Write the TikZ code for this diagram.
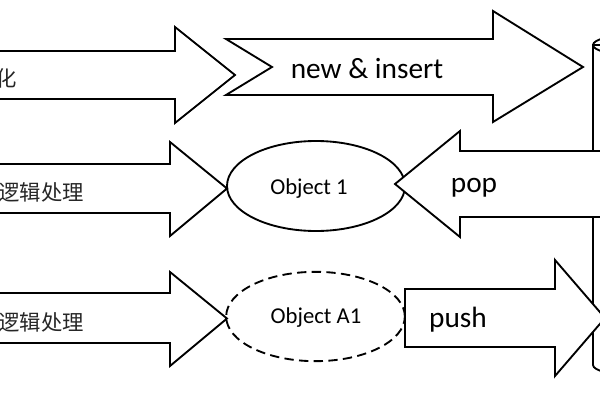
\documentclass[tikz,border=0pt]{standalone}
\usepackage{fontspec}
\setmainfont{Carlito}
\newfontfamily\cjk{Noto Sans CJK SC}
\usetikzlibrary{shapes.geometric}
\tikzset{
  blk/.style={draw=black, line width=1.4pt, fill=white, line join=miter},
  obj/.style={draw=black, line width=1.4pt, ellipse, inner sep=0pt, fill=white},
  biglbl/.style={font=\fontsize{22pt}{24pt}\selectfont, inner sep=0pt, anchor=base},
  objlbl/.style={font=\fontsize{17pt}{19pt}\selectfont, inner sep=0pt, anchor=base},
  cnlbl/.style={font=\cjk\fontsize{16pt}{18pt}\selectfont, inner sep=0pt, anchor=base east, text=black!85},
}
\begin{document}
\begin{tikzpicture}[x=0.75pt, y=-0.75pt]
\useasboundingbox (0,0) rectangle (600,400);
\clip (0,0) rectangle (600,400);
% cylinder (database) at the right edge
\draw[blk] (593,45) -- (593,365) arc[start angle=180, end angle=360, x radius=30pt, y radius=7.5pt] -- (673,45) -- cycle;
\draw[line width=1.4pt] (633,45) ellipse [x radius=30pt, y radius=7.5pt];
% objects
\node[obj, minimum width=133.5pt, minimum height=67.5pt] (o1) at (316,186) {};
\node[obj, dash pattern=on 7pt off 4pt, minimum width=134pt, minimum height=67pt] (oa1) at (315.5,316.5) {};
% row 1 arrows
\draw[blk] (-10,51) -- (175,51) -- (175,27) -- (235,75) -- (175,123) -- (175,99) -- (-10,99);
\draw[blk] (226,39) -- (493,39) -- (493,11) -- (583,67) -- (493,122) -- (493,95) -- (226,95) -- (272,67) -- cycle;
% row 2 arrows
\draw[blk] (-10,164) -- (170,164) -- (170,142) -- (227,188.5) -- (170,236) -- (170,213) -- (-10,213);
\draw[blk] (615,151) -- (460,151) -- (460,131) -- (395,184) -- (460,237) -- (460,217) -- (615,217);
% row 3 arrows
\draw[blk] (-10,293) -- (170,293) -- (170,272) -- (227,318.5) -- (170,366) -- (170,343) -- (-10,343);
\draw[blk] (405,289) -- (555,289) -- (555,260) -- (605,318) -- (555,376) -- (555,347) -- (405,347) -- cycle;
% labels
\node[cnlbl] (c1) at (17,86) {初始化};
\node[cnlbl] (c2) at (84,200) {业务逻辑处理};
\node[cnlbl] (c3) at (84,330) {业务逻辑处理};
\node[biglbl] (ni) at (367,78) {new \& insert};
\node[biglbl] (pop) at (474,192) {pop};
\node[biglbl] (push) at (458,327) {push};
\node[objlbl] (t1) at (309,194) {Object 1};
\node[objlbl] (ta1) at (316,323) {Object A1};
\end{tikzpicture}
\end{document}
